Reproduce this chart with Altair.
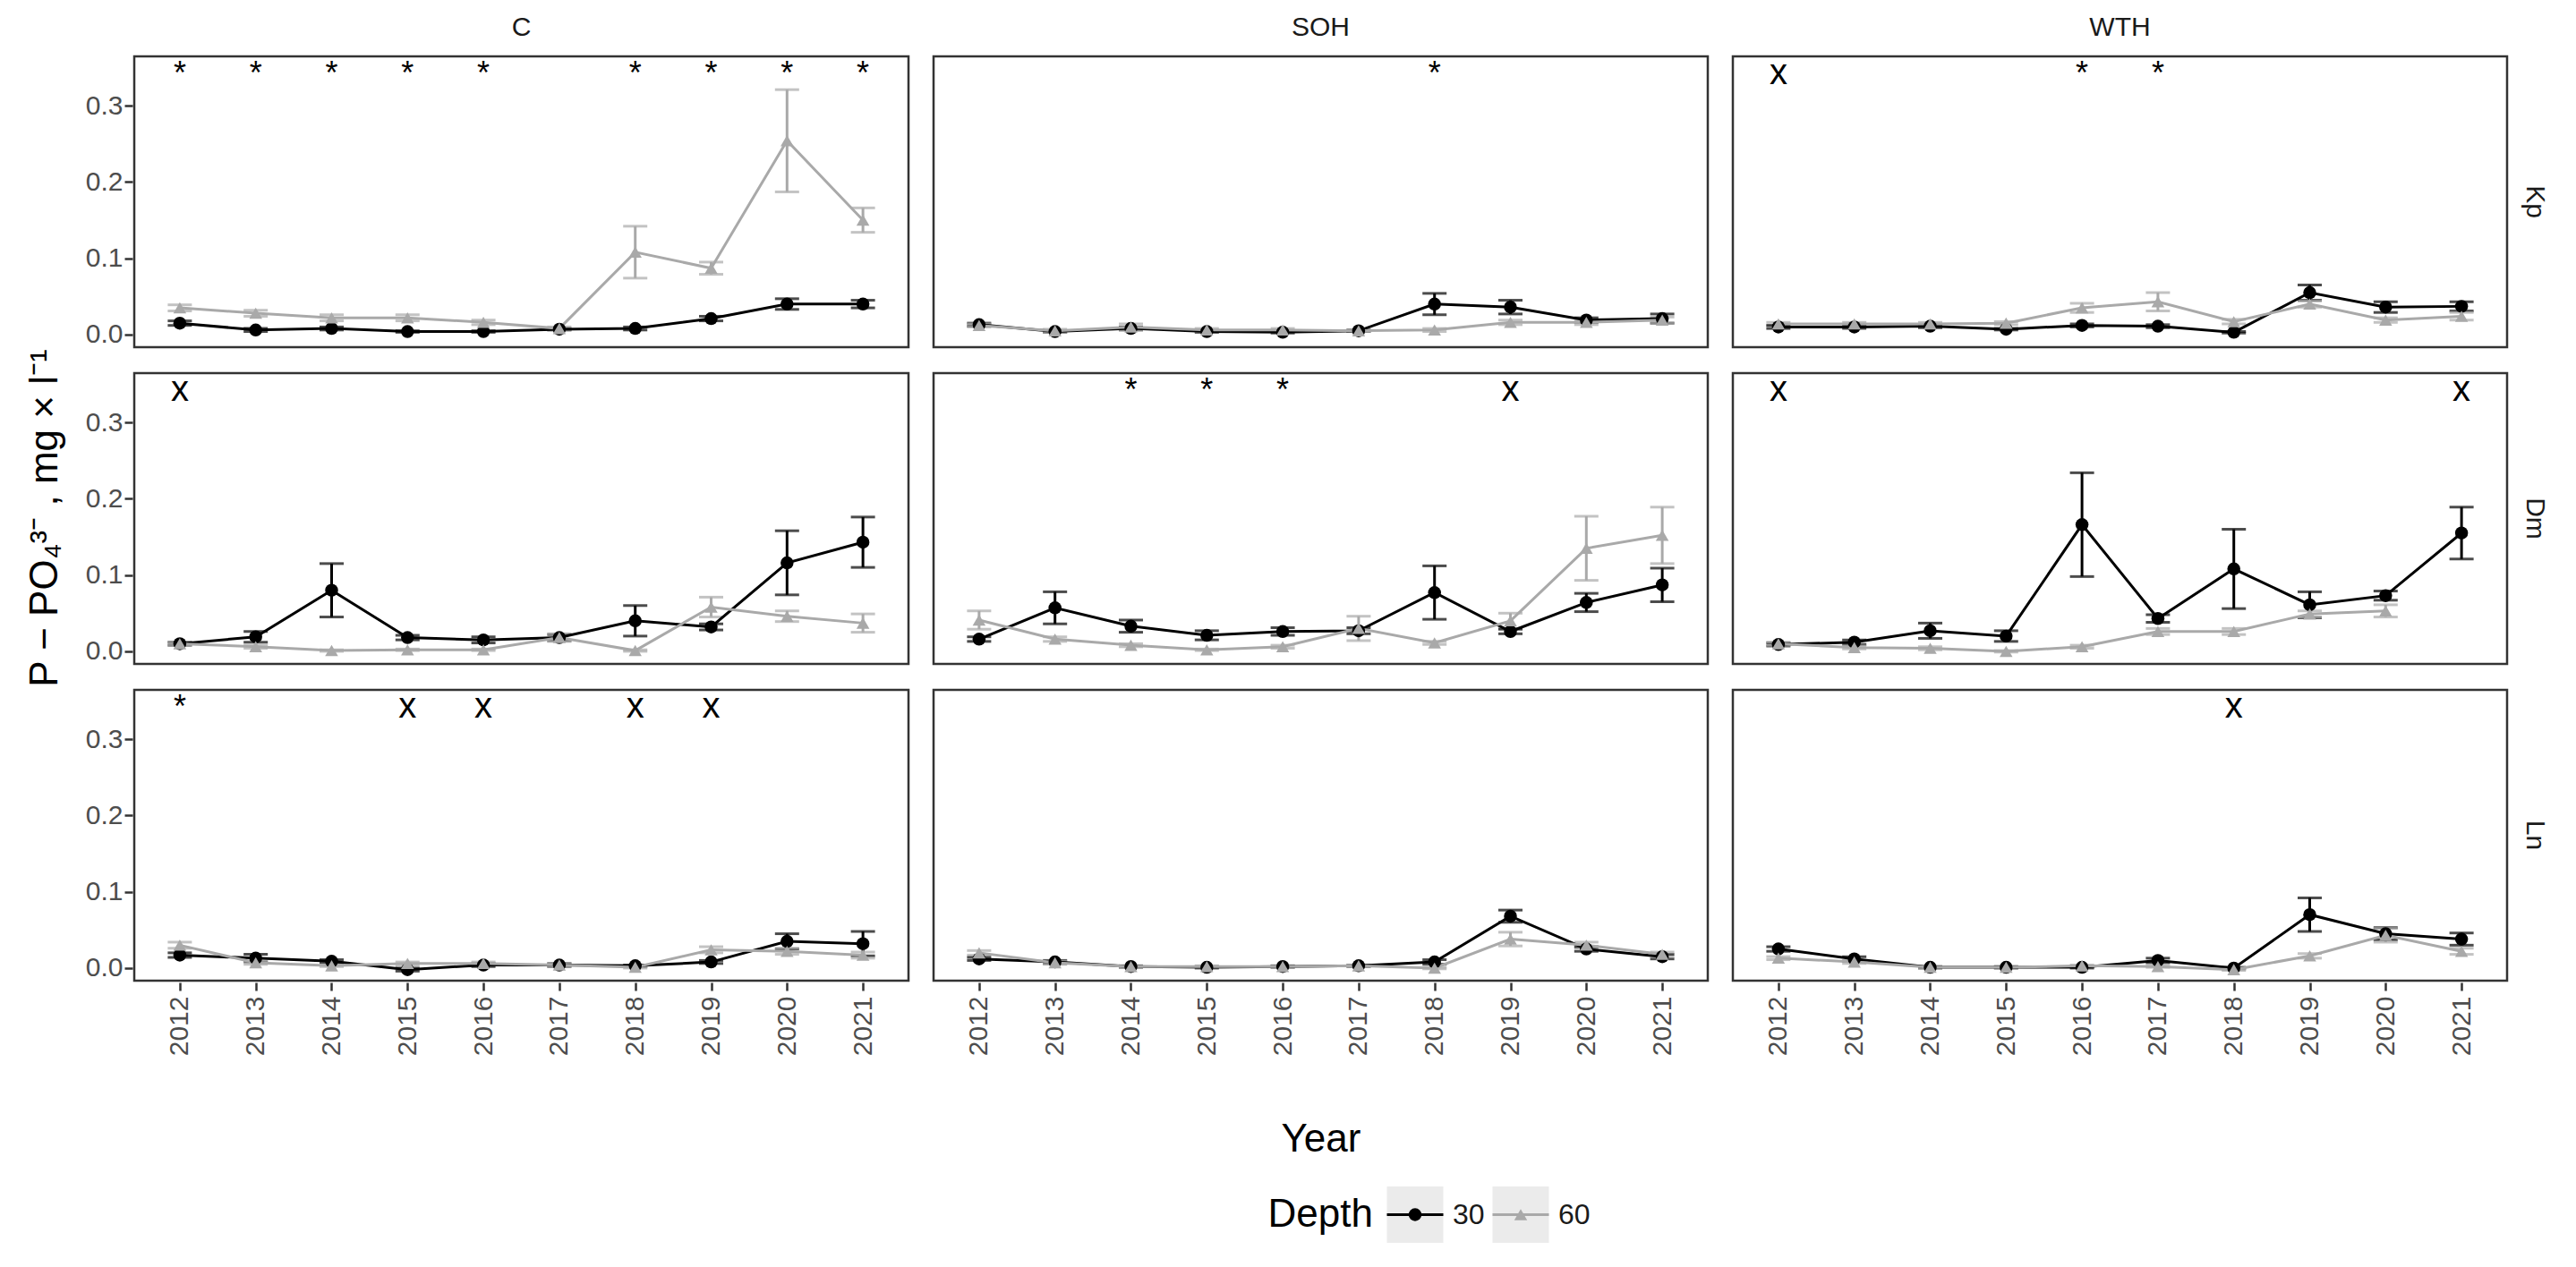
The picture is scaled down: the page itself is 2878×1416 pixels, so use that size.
import altair as alt
import pandas as pd

FONT = "Liberation Sans"

years = [2012, 2013, 2014, 2015, 2016, 2017, 2018, 2019, 2020, 2021]
treatments = ["C", "SOH", "WTH"]
sites = ["Kp", "Dm", "Ln"]
depths = ["30", "60"]

# ---- Kp ----
C_Kp_30 = [0.015, 0.006, 0.008, 0.004, 0.004, 0.007, 0.008, 0.021, 0.040, 0.040]
C_Kp_30_se = [0.003, 0.002, 0.002, 0.001, 0.001, 0.001, 0.002, 0.003, 0.007, 0.005]
C_Kp_60 = [0.035, 0.028, 0.022, 0.022, 0.016, 0.008, 0.108, 0.087, 0.254, 0.150]
C_Kp_60_se = [0.004, 0.004, 0.004, 0.004, 0.003, 0.002, 0.034, 0.008, 0.067, 0.016]

SOH_Kp_30 = [0.013, 0.004, 0.008, 0.004, 0.003, 0.005, 0.040, 0.036, 0.019, 0.021]
SOH_Kp_30_se = [0.002, 0.001, 0.002, 0.001, 0.001, 0.001, 0.014, 0.009, 0.003, 0.006]
SOH_Kp_60 = [0.012, 0.005, 0.010, 0.006, 0.006, 0.005, 0.006, 0.016, 0.016, 0.019]
SOH_Kp_60_se = [0.002, 0.002, 0.004, 0.002, 0.002, 0.001, 0.002, 0.003, 0.003, 0.004]

WTH_Kp_30 = [0.010, 0.010, 0.011, 0.007, 0.012, 0.011, 0.003, 0.055, 0.036, 0.037]
WTH_Kp_30_se = [0.002, 0.002, 0.002, 0.001, 0.002, 0.002, 0.001, 0.010, 0.007, 0.006]
WTH_Kp_60 = [0.014, 0.014, 0.014, 0.015, 0.035, 0.043, 0.017, 0.040, 0.019, 0.024]
WTH_Kp_60_se = [0.002, 0.002, 0.002, 0.002, 0.006, 0.012, 0.003, 0.004, 0.003, 0.005]

# ---- Dm ----
C_Dm_30 = [0.010, 0.019, 0.080, 0.018, 0.015, 0.018, 0.040, 0.032, 0.116, 0.143]
C_Dm_30_se = [0.002, 0.007, 0.035, 0.003, 0.004, 0.004, 0.020, 0.004, 0.042, 0.033]
C_Dm_60 = [0.010, 0.006, 0.001, 0.002, 0.002, 0.018, 0.001, 0.058, 0.046, 0.037]
C_Dm_60_se = [0.002, 0.002, 0.001, 0.001, 0.001, 0.005, 0.001, 0.013, 0.007, 0.012]

SOH_Dm_30 = [0.016, 0.057, 0.033, 0.021, 0.026, 0.027, 0.077, 0.026, 0.064, 0.087]
SOH_Dm_30_se = [0.003, 0.021, 0.008, 0.006, 0.005, 0.004, 0.035, 0.003, 0.012, 0.022]
SOH_Dm_60 = [0.041, 0.016, 0.008, 0.002, 0.006, 0.030, 0.011, 0.040, 0.135, 0.152]
SOH_Dm_60_se = [0.012, 0.003, 0.002, 0.001, 0.002, 0.016, 0.002, 0.010, 0.042, 0.037]

WTH_Dm_30 = [0.009, 0.012, 0.027, 0.020, 0.166, 0.043, 0.108, 0.061, 0.073, 0.155]
WTH_Dm_30_se = [0.002, 0.003, 0.010, 0.007, 0.068, 0.005, 0.052, 0.017, 0.006, 0.034]
WTH_Dm_60 = [0.010, 0.005, 0.004, 0.000, 0.006, 0.026, 0.026, 0.049, 0.053, None]
WTH_Dm_60_se = [0.002, 0.002, 0.002, 0.001, 0.002, 0.004, 0.004, 0.004, 0.008, None]

# ---- Ln ----
C_Ln_30 = [0.017, 0.013, 0.009, -0.002, 0.004, 0.004, 0.003, 0.008, 0.035, 0.032]
C_Ln_30_se = [0.003, 0.005, 0.002, 0.002, 0.002, 0.002, 0.001, 0.002, 0.010, 0.016]
C_Ln_60 = [0.030, 0.007, 0.003, 0.006, 0.006, 0.004, 0.001, 0.024, 0.022, 0.017]
C_Ln_60_se = [0.004, 0.002, 0.001, 0.002, 0.002, 0.002, 0.001, 0.004, 0.004, 0.004]

SOH_Ln_30 = [0.012, 0.008, 0.002, 0.001, 0.002, 0.003, 0.008, 0.068, 0.025, 0.015]
SOH_Ln_30_se = [0.002, 0.002, 0.001, 0.001, 0.001, 0.001, 0.003, 0.008, 0.003, 0.003]
SOH_Ln_60 = [0.020, 0.007, 0.002, 0.002, 0.002, 0.003, 0.000, 0.038, 0.030, 0.018]
SOH_Ln_60_se = [0.003, 0.002, 0.001, 0.001, 0.001, 0.001, 0.001, 0.009, 0.004, 0.003]

WTH_Ln_30 = [0.025, 0.012, 0.001, 0.001, 0.001, 0.010, 0.000, 0.070, 0.045, 0.038]
WTH_Ln_30_se = [0.003, 0.003, 0.001, 0.001, 0.001, 0.003, 0.001, 0.022, 0.008, 0.008]
WTH_Ln_60 = [0.013, 0.008, 0.001, 0.001, 0.003, 0.002, -0.002, 0.016, 0.043, 0.022]
WTH_Ln_60_se = [0.002, 0.002, 0.001, 0.001, 0.001, 0.001, 0.001, 0.003, 0.009, 0.004]

# significance annotations: (site, treatment, year, label)
annotations = [
    ("Kp", "C", 2012, "*"), ("Kp", "C", 2013, "*"), ("Kp", "C", 2014, "*"),
    ("Kp", "C", 2015, "*"), ("Kp", "C", 2016, "*"), ("Kp", "C", 2018, "*"),
    ("Kp", "C", 2019, "*"), ("Kp", "C", 2020, "*"), ("Kp", "C", 2021, "*"),
    ("Kp", "SOH", 2018, "*"),
    ("Kp", "WTH", 2012, "x"), ("Kp", "WTH", 2016, "*"), ("Kp", "WTH", 2017, "*"),
    ("Dm", "C", 2012, "x"),
    ("Dm", "SOH", 2014, "*"), ("Dm", "SOH", 2015, "*"), ("Dm", "SOH", 2016, "*"),
    ("Dm", "SOH", 2019, "x"),
    ("Dm", "WTH", 2012, "x"), ("Dm", "WTH", 2021, "x"),
    ("Ln", "C", 2012, "*"), ("Ln", "C", 2015, "x"), ("Ln", "C", 2016, "x"),
    ("Ln", "C", 2018, "x"), ("Ln", "C", 2019, "x"),
    ("Ln", "WTH", 2018, "x"),
]
annot_y = 0.328

# legend entries
legend_labels = ["30", "60"]
legend_title = "Depth"

series = {
    ("Kp", "C"): (C_Kp_30, C_Kp_30_se, C_Kp_60, C_Kp_60_se),
    ("Kp", "SOH"): (SOH_Kp_30, SOH_Kp_30_se, SOH_Kp_60, SOH_Kp_60_se),
    ("Kp", "WTH"): (WTH_Kp_30, WTH_Kp_30_se, WTH_Kp_60, WTH_Kp_60_se),
    ("Dm", "C"): (C_Dm_30, C_Dm_30_se, C_Dm_60, C_Dm_60_se),
    ("Dm", "SOH"): (SOH_Dm_30, SOH_Dm_30_se, SOH_Dm_60, SOH_Dm_60_se),
    ("Dm", "WTH"): (WTH_Dm_30, WTH_Dm_30_se, WTH_Dm_60, WTH_Dm_60_se),
    ("Ln", "C"): (C_Ln_30, C_Ln_30_se, C_Ln_60, C_Ln_60_se),
    ("Ln", "SOH"): (SOH_Ln_30, SOH_Ln_30_se, SOH_Ln_60, SOH_Ln_60_se),
    ("Ln", "WTH"): (WTH_Ln_30, WTH_Ln_30_se, WTH_Ln_60, WTH_Ln_60_se),
}

rows = []
for (site, trt), (m30, s30, m60, s60) in series.items():
    for depth, means, ses in (("30", m30, s30), ("60", m60, s60)):
        for yr, v, e in zip(years, means, ses):
            if v is None:
                continue
            rows.append(dict(kind="data", site=site, trt=trt, depth=depth,
                             year=str(yr), mean=v, lo=v - e, hi=v + e, label=""))
for site, trt, yr, lab in annotations:
    rows.append(dict(kind="annot", site=site, trt=trt, depth="30",
                     year=str(yr), mean=annot_y, lo=annot_y, hi=annot_y, label=lab))
df = pd.DataFrame(rows)

BLACK = "#000000"
GREY = "#A9A9A9"
TITLE_SIZE = 44

xscale = alt.Scale(type="point", padding=0.6, domain=[str(y) for y in years])
yscale = alt.Scale(domain=[-0.0165, 0.3646], nice=False, zero=False)
yaxis = alt.Axis(values=[0, 0.1, 0.2, 0.3], format=".1f", title=None)
xaxis = alt.Axis(labelAngle=-90, title=None, labelPadding=6)

color = alt.Color("depth:N", scale=alt.Scale(domain=depths, range=[BLACK, GREY]), legend=None)
shape = alt.Shape("depth:N", scale=alt.Scale(domain=depths, range=["circle", "triangle-up"]),
                  legend=None)

X = alt.X("year:O", scale=xscale, axis=xaxis)

base = alt.Chart(df)
data_base = base.transform_filter(alt.datum.kind == "data")

err_rule = data_base.mark_rule(strokeWidth=3).encode(
    x=X, y=alt.Y("lo:Q", scale=yscale, axis=yaxis), y2="hi:Q", color=color)
err_lo = data_base.mark_tick(size=27, thickness=3).encode(
    x=X, y=alt.Y("lo:Q", scale=yscale, axis=yaxis), color=color)
err_hi = data_base.mark_tick(size=27, thickness=3).encode(
    x=X, y=alt.Y("hi:Q", scale=yscale, axis=yaxis), color=color)
lines = data_base.mark_line(strokeWidth=3).encode(
    x=X, y=alt.Y("mean:Q", scale=yscale, axis=yaxis), color=color, detail="depth:N")
points = data_base.mark_point(filled=True, opacity=1, size=210).encode(
    x=X, y=alt.Y("mean:Q", scale=yscale, axis=yaxis), color=color, shape=shape)
ast = base.transform_filter((alt.datum.kind == "annot") & (alt.datum.label == "*")).mark_text(
    fontSize=36, baseline="alphabetic", align="center", font=FONT, color="black"
).encode(x=X, y=alt.Y("mean:Q", scale=yscale, axis=yaxis), text="label:N")
exs = base.transform_filter((alt.datum.kind == "annot") & (alt.datum.label == "x")).mark_text(
    fontSize=40, baseline="alphabetic", align="center", font=FONT, color="black"
).encode(x=X, y=alt.Y("mean:Q", scale=yscale, axis=yaxis), text="label:N")

layered = alt.layer(err_rule, err_lo, err_hi, lines, points, ast, exs).properties(
    width=865, height=325)

facet = layered.facet(
    row=alt.Row("site:N", sort=sites, title="P − PO₄³⁻ , mg × l⁻¹",
                header=alt.Header(labelOrient="right", labelAngle=90, labelFontSize=30,
                                  labelPadding=14, labelColor="#1A1A1A", labelFont=FONT,
                                  titleOrient="left", titleFontSize=TITLE_SIZE,
                                  titleColor="black", titleFontWeight="normal",
                                  titleFont=FONT, titlePadding=12, titleLimit=1200)),
    column=alt.Column("trt:N", sort=treatments, title="Year",
                      header=alt.Header(labelOrient="top", labelFontSize=30, labelPadding=14,
                                        labelColor="#1A1A1A", labelFont=FONT,
                                        titleOrient="bottom", titleFontSize=TITLE_SIZE,
                                        titleColor="black", titleFontWeight="normal",
                                        titleFont=FONT, titlePadding=62, titleLimit=1200)),
    spacing={"row": 24, "column": 24},
)

# ---- manual ggplot-style legend ----
LW = 2700
KEY = 63
leg_df = pd.DataFrame({"depth": legend_labels, "slot": [0, 1]})
lx = alt.Scale(domain=[0, LW], nice=False, zero=False)
leg_base = alt.Chart(leg_df).transform_calculate(
    center="1431 + datum.slot * 118",
    left="1431 + datum.slot * 118 - 31.5",
    right="1431 + datum.slot * 118 + 31.5",
    labx="1431 + datum.slot * 118 + 42",
)
lcolor = alt.Color("depth:N", scale=alt.Scale(domain=depths, range=[BLACK, GREY]), legend=None)
lshape = alt.Shape("depth:N", scale=alt.Scale(domain=depths, range=["circle", "triangle-up"]),
                   legend=None)
boxes = leg_base.mark_rect(color="#EBEBEB").encode(
    x=alt.X("left:Q", scale=lx, axis=None), x2="right:Q",
    y=alt.value(0), y2=alt.value(KEY))
klines = leg_base.mark_rule(strokeWidth=3).encode(
    x=alt.X("left:Q", scale=lx, axis=None), x2="right:Q",
    y=alt.value(KEY / 2), color=lcolor)
kpoints = leg_base.mark_point(filled=True, opacity=1, size=210).encode(
    x=alt.X("center:Q", scale=lx, axis=None), y=alt.value(KEY / 2),
    color=lcolor, shape=lshape)
klabels = leg_base.mark_text(align="left", baseline="middle", fontSize=32,
                             font=FONT, color="#1A1A1A").encode(
    x=alt.X("labx:Q", scale=lx, axis=None), y=alt.value(KEY / 2), text="depth:N")
ktitle = alt.Chart(pd.DataFrame({"t": [legend_title]})).mark_text(
    align="right", baseline="middle", fontSize=TITLE_SIZE, font=FONT, color="black"
).encode(x=alt.value(1384), y=alt.value(KEY / 2), text="t:N")

legend_chart = alt.layer(boxes, klines, kpoints, klabels, ktitle).properties(
    width=LW, height=KEY, view=alt.ViewBackground(stroke="transparent", strokeWidth=0)
).resolve_scale(color="independent", shape="independent")

chart = alt.vconcat(facet, legend_chart, spacing=30).properties(
    padding={"left": 20, "top": 8, "right": 5, "bottom": 5}
).configure(
    background="white"
).configure_view(
    stroke="#333333", strokeWidth=2.5
).configure_axis(
    grid=False, domain=False, ticks=True, tickColor="#333333", tickWidth=2.5,
    tickSize=9, labelFontSize=30, labelColor="#4D4D4D", labelFont=FONT,
    titleFont=FONT, titleFontSize=36, titleColor="black", titleFontWeight="normal"
)

chart.save("out.html", embed_options={"renderer": "svg", "actions": False})
